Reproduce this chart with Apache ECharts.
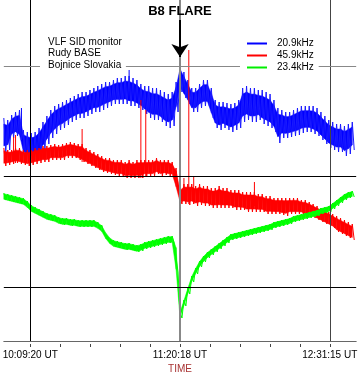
<!DOCTYPE html>
<html>
<head>
<meta charset="utf-8">
<script src="https://cdn.jsdelivr.net/npm/echarts@6/dist/echarts.min.js"></script>
<style>html,body{margin:0;padding:0;background:#fff;}#c{width:360px;height:376px;}</style>
</head>
<body>
<div id="c"></div>
<script>
// Time base (seconds of day, UT)
const TIME_START = 35809;   // 09:56:49 left edge
const TIME_END = 45826;     // 12:43:46 right edge
const SAMPLE_STEP = 111.3;  // seconds between envelope readings
const FLARE_TIME = 40818;   // 11:20:18 UT
const LABEL_TIMES = [36560, 40818, 45075];
const TICK_TIMES = [36560, 37412, 38263, 39115, 39966, 40818, 41669, 42521, 43372, 44224, 45075];
const SERIES_NAMES = ['20.9kHz', '45.9kHz', '23.4kHz'];

// Relative signal level envelopes (upper / lower edge of the noisy trace)
const BLUE_MAX = [223,221,226,229,231,211,209,208,209,213,219,225,231,235,237,239,241,243,245,247,249,249,251,253,255,257,259,259,261,263,263,265,265,263,261,257,255,255,253,253,251,249,247,249,259,277,269,261,253,253,257,261,261,253,241,239,239,238,237,238,241,253,255,253,253,251,251,249,247,241,233,231,229,229,231,233,235,235,235,235,233,229,225,221,219,217,217,215,217,219];
const BLUE_MIN = [189,191,203,205,201,185,183,181,183,185,191,197,203,207,211,213,216,219,221,223,223,225,227,229,229,231,233,235,237,237,237,237,235,235,233,231,227,223,221,221,219,215,213,215,229,249,243,237,229,229,233,235,235,223,213,211,213,211,209,211,213,219,221,219,219,221,217,215,213,209,198,203,203,204,205,206,208,209,209,207,205,201,197,193,191,189,189,185,187,191];
const RED_MAX = [193,191,191,193,193,191,191,191,193,193,195,195,196,197,196,197,198,199,198,197,197,193,191,189,187,185,183,183,181,181,181,179,181,179,181,181,181,181,181,183,181,181,181,179,173,153,157,157,157,155,157,155,155,153,153,155,153,153,151,151,151,149,149,149,149,147,147,145,145,143,143,143,143,143,143,143,141,141,139,137,135,133,131,129,127,125,123,121,119,117];
const RED_MIN = [175,176,177,178,177,176,175,176,177,178,179,179,181,181,181,181,183,183,183,181,179,177,175,173,171,169,168,167,166,165,165,163,163,163,163,163,165,165,165,167,165,166,165,165,151,137,137,136,137,135,136,135,135,133,133,133,133,133,133,131,131,131,129,129,129,129,129,127,127,127,127,126,125,127,127,127,127,125,125,123,121,119,117,115,113,109,107,105,103,101];
const GREEN_MAX = [148,147,146,145,144,143,140,136,134,132,130,128,127,126,124,123,123,122,122,121,121,121,121,121,119,116,109,104,101,100,99,98,98,97,96,97,99,100,101,102,103,104,105,105,96,29,41,53,65,73,80,85,89,92,95,98,101,104,107,108,109,110,111,112,113,114,115,116,117,119,120,121,122,123,125,126,127,128,129,130,131,133,134,135,138,141,144,147,149,150];
const GREEN_MIN = [141,140,139,138,137,136,133,129,127,125,123,121,120,119,117,116,116,115,115,114,114,114,114,114,112,109,102,97,94,93,92,91,91,90,89,90,92,93,94,95,96,97,98,98,69,23,35,47,59,67,74,79,83,86,89,92,95,98,101,102,103,104,105,106,107,108,109,110,111,113,114,115,116,117,119,120,121,122,123,124,125,127,128,129,132,135,138,141,143,144];

// Isolated spikes (time, base level, peak level)
const RED_SPIKE_TIMES = [36087, 36143, 38035, 39705, 39844, 40929, 41068, 41207, 42933];
const RED_SPIKE_BASES = [177, 178, 179, 163, 165, 140, 137, 137, 135];
const RED_SPIKE_PEAKS = [204, 206, 212, 241, 231, 163, 291, 165, 159];
const BLUE_SPIKE_TIMES = [36310, 39371];
const BLUE_SPIKE_BASES = [205, 240];
const BLUE_SPIKE_PEAKS = [233, 271];

// Reference grid levels and arrow extent (same level units)
const GRID_LEVELS = [275, 165, 54];
const ARROW_FROM = 321, ARROW_TO = 284;

function trace(maxArr, minArr) {
  const out = [];
  for (let i = 0; i < maxArr.length; i++) {
    const t = TIME_START + i * SAMPLE_STEP;
    out.push([t, maxArr[i]]);
    out.push([t + SAMPLE_STEP / 2, minArr[i]]);
  }
  return out;
}
function bandData(maxArr, minArr) {
  const out = [];
  for (let i = 0; i < maxArr.length - 1; i++) {
    out.push([TIME_START + i * SAMPLE_STEP, maxArr[i], minArr[i],
              TIME_START + (i + 1) * SAMPLE_STEP, maxArr[i + 1], minArr[i + 1]]);
  }
  return out;
}
function bandSeries(maxArr, minArr, color, z, shrink) {
  return {
    type: 'custom', silent: true, z: z, data: bandData(maxArr, minArr),
    renderItem: function (params, api) {
      const t0 = api.value(0), a0 = api.value(1), b0 = api.value(2);
      const t1 = api.value(3), a1 = api.value(4), b1 = api.value(5);
      const d0 = (a0 - b0) * shrink, d1 = (a1 - b1) * shrink;
      const p = [
        api.coord([t0, a0 - d0]), api.coord([t1, a1 - d1]),
        api.coord([t1, b1 + d1]), api.coord([t0, b0 + d0])
      ];
      return {type: 'polygon', shape: {points: p}, style: {fill: color, stroke: color, lineWidth: 0.5}};
    }
  };
}
function spikeSeries(times, bases, peaks, color, z) {
  return {
    type: 'custom', silent: true, z: z,
    data: times.map((t, i) => [t, bases[i], peaks[i]]),
    renderItem: function (params, api) {
      const a = api.coord([api.value(0), api.value(1)]);
      const b = api.coord([api.value(0), api.value(2)]);
      return {type: 'line', shape: {x1: a[0], y1: a[1], x2: b[0], y2: b[1]},
              style: {stroke: color, lineWidth: 1}};
    }
  };
}
function fmt(s) {
  s = Math.round(s);
  const h = Math.floor(s / 3600), m = Math.floor((s % 3600) / 60), sec = s % 60;
  const p = n => (n < 10 ? '0' : '') + n;
  return p(h) + ':' + p(m) + ':' + p(sec) + ' UT';
}
const FONT = 'Liberation Sans, Arial, sans-serif';
const chart = echarts.init(document.getElementById('c'), null, {renderer: 'canvas'});
chart.setOption({
  animation: false,
  backgroundColor: '#fff',
  grid: {left: 0, right: 0, top: 0, bottom: 35},
  title: [
    {text: 'B8 FLARE', left: 'center', top: 5, padding: 0, z: 20,
     textStyle: {fontFamily: FONT, fontSize: 13, fontWeight: 'bold', color: '#000'}},
    {text: 'VLF SID monitor\nRudy BASE\nBojnice Slovakia', left: 40, top: 35, z: 20,
     padding: [1, 4, 1, 8], backgroundColor: '#fff',
     textStyle: {fontFamily: FONT, fontSize: 10, lineHeight: 11.5, fontWeight: 'normal', color: '#000'}},
    {text: 'TIME', left: 'center', top: 364, padding: 0, z: 20,
     textStyle: {fontFamily: FONT, fontSize: 10, fontWeight: 'normal', color: '#a83232'}}
  ],
  legend: {
    data: SERIES_NAMES, orient: 'vertical', left: 240, top: 37, z: 20,
    padding: [1, 5, 1, 7], itemGap: 1, itemWidth: 20, itemHeight: 2, icon: 'rect',
    backgroundColor: '#fff',
    textStyle: {fontFamily: FONT, fontSize: 10, lineHeight: 11, color: '#000', padding: [0, 0, 0, 5]}
  },
  xAxis: [
    {type: 'value', min: TIME_START, max: TIME_END,
     axisLine: {show: true, lineStyle: {color: '#666', width: 1}},
     axisTick: {show: false}, axisLabel: {show: false}, splitLine: {show: false}},
    {type: 'value', min: TIME_START, max: TIME_END, position: 'bottom', offset: 3,
     axisLine: {show: false},
     axisTick: {show: true, length: 3, customValues: TICK_TIMES, lineStyle: {color: '#444'}},
     axisLabel: {show: true, customValues: LABEL_TIMES, formatter: fmt, margin: 6,
                 fontFamily: FONT, fontSize: 10, color: '#000'},
     splitLine: {show: false}}
  ],
  yAxis: {type: 'value', min: 0, max: 341, show: false, splitLine: {show: false}},
  series: [
    bandSeries(BLUE_MAX, BLUE_MIN, '#0000ff', 2, 0.18),
    {name: SERIES_NAMES[0], type: 'line', data: trace(BLUE_MAX, BLUE_MIN), symbol: 'none',
     color: '#0000ff', lineStyle: {width: 1, color: '#1a1aff'}, z: 2},
    spikeSeries(BLUE_SPIKE_TIMES, BLUE_SPIKE_BASES, BLUE_SPIKE_PEAKS, '#0000ff', 2),
    bandSeries(RED_MAX, RED_MIN, '#ff0000', 3, 0.15),
    {name: SERIES_NAMES[1], type: 'line', data: trace(RED_MAX, RED_MIN), symbol: 'none',
     color: '#ff0000', lineStyle: {width: 1, color: '#ff0000'}, z: 3},
    spikeSeries(RED_SPIKE_TIMES, RED_SPIKE_BASES, RED_SPIKE_PEAKS, '#ff0000', 3),
    bandSeries(GREEN_MAX, GREEN_MIN, '#00ff00', 4, 0.1),
    {name: SERIES_NAMES[2], type: 'line', data: trace(GREEN_MAX, GREEN_MIN), symbol: 'none',
     color: '#00ee00', lineStyle: {width: 1, color: '#00ff00'}, z: 4},
    {name: 'grid', type: 'line', data: [], z: 5, silent: true,
     markLine: {
       silent: true, symbol: 'none', label: {show: false}, animation: false,
       data: [
         {xAxis: LABEL_TIMES[0], lineStyle: {color: '#000', width: 1, type: 'solid'}},
         {xAxis: LABEL_TIMES[1], lineStyle: {color: '#888', width: 2, type: 'solid'}},
         {xAxis: LABEL_TIMES[2], lineStyle: {color: '#444', width: 1, type: 'solid'}},
         {yAxis: GRID_LEVELS[0], lineStyle: {color: '#888', width: 1, type: 'solid'}},
         {yAxis: GRID_LEVELS[1], lineStyle: {color: '#000', width: 1, type: 'solid'}},
         {yAxis: GRID_LEVELS[2], lineStyle: {color: '#000', width: 1, type: 'solid'}}
       ]
     }},
    {name: 'arrow', type: 'line', data: [], z: 6, silent: true,
     markLine: {
       silent: true, symbol: ['none', 'arrow'], symbolSize: 13, label: {show: false}, animation: false,
       lineStyle: {color: '#000', width: 2, type: 'solid'},
       data: [[{coord: [FLARE_TIME, ARROW_FROM]}, {coord: [FLARE_TIME, ARROW_TO]}]]
     }}
  ]
});
</script>
</body>
</html>
